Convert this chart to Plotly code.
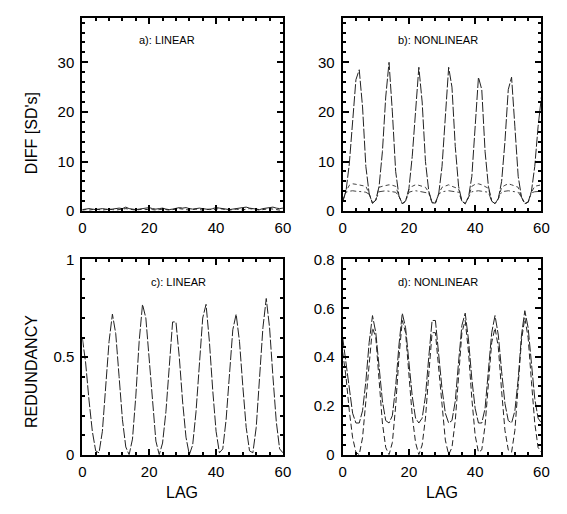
import plotly.graph_objects as go

lags = list(range(61))

# Panel a: DIFF, linear (small values)
diff_lin_1 = [0.3, 0.4, 0.5, 0.4, 0.3, 0.4, 0.5, 0.4, 0.3, 0.4, 0.5, 0.6, 0.5, 0.8, 0.5, 0.4, 0.3, 0.4, 0.5, 0.6,
              0.7, 0.5, 0.4, 0.5, 0.6, 0.4, 0.3, 0.4, 0.5, 0.7, 0.6, 0.7, 0.5, 0.4, 0.5, 0.6, 0.5, 0.4, 0.3, 0.5,
              0.7, 0.6, 0.5, 0.4, 0.3, 0.4, 0.5, 0.6, 0.7, 0.8, 0.6, 0.5, 0.4, 0.3, 0.5, 0.6, 0.7, 0.8, 0.6, 0.5, 0.6]
diff_lin_2 = [0.2, 0.3, 0.2, 0.3, 0.4, 0.3, 0.2, 0.3, 0.4, 0.3, 0.2, 0.3, 0.4, 0.5, 0.4, 0.3, 0.2, 0.3, 0.4, 0.3,
              0.4, 0.3, 0.2, 0.3, 0.4, 0.3, 0.2, 0.3, 0.4, 0.5, 0.4, 0.3, 0.2, 0.3, 0.4, 0.3, 0.2, 0.3, 0.4, 0.3,
              0.4, 0.5, 0.4, 0.3, 0.2, 0.3, 0.4, 0.3, 0.2, 0.4, 0.5, 0.4, 0.3, 0.2, 0.3, 0.4, 0.5, 0.4, 0.3, 0.2, 0.3]

# Panel b: DIFF, nonlinear
diff_non_1 = [2.0, 4.0, 9.5, 18.0, 26.5, 28.5, 21.0, 9.0, 3.5, 1.6, 2.2, 5.0, 12.0, 23.0, 30.0, 20.0, 8.0, 3.0, 1.5, 2.0,
              4.5, 11.0, 21.0, 29.0, 22.0, 10.0, 4.0, 1.7, 1.6, 3.5, 9.0, 19.0, 29.0, 25.0, 13.0, 5.0, 2.0, 1.5, 2.8, 7.0,
              16.0, 27.0, 24.5, 12.0, 5.0, 2.0, 1.5, 2.5, 6.0, 14.0, 24.5, 27.0, 17.0, 7.0, 2.8, 1.5, 1.8, 4.0, 9.0, 17.0, 23.0]
diff_non_2 = [2.0, 4.0, 5.2, 5.5, 5.4, 5.3, 5.2, 5.0, 3.5, 1.6, 2.2, 4.8, 5.0, 5.2, 5.3, 5.2, 5.0, 3.0, 1.5, 2.0,
              4.3, 5.0, 5.3, 5.2, 5.0, 4.8, 3.8, 1.7, 1.6, 3.5, 4.8, 5.0, 5.3, 5.0, 4.8, 4.5, 2.0, 1.5, 2.8, 5.0,
              5.4, 5.5, 5.3, 5.0, 4.6, 2.0, 1.5, 2.5, 4.8, 5.2, 5.5, 5.3, 5.0, 4.8, 2.8, 1.5, 1.8, 3.8, 5.0, 5.2, 5.3]
diff_non_3 = [2.0, 3.8, 4.0, 4.1, 4.0, 4.0, 3.9, 3.8, 3.4, 1.6, 2.2, 3.9, 4.0, 4.1, 4.0, 3.9, 3.8, 3.0, 1.5, 2.0,
              3.8, 4.0, 4.1, 4.0, 3.9, 3.8, 3.6, 1.7, 1.6, 3.4, 3.9, 4.0, 4.1, 4.0, 3.9, 3.8, 2.0, 1.5, 2.8, 3.9,
              4.0, 4.1, 4.0, 3.9, 3.8, 2.0, 1.5, 2.5, 3.9, 4.0, 4.1, 4.0, 3.9, 3.8, 2.8, 1.5, 1.8, 3.7, 3.9, 4.0, 4.0]

# Panel c: redundancy, linear
red_lin = [0.60, 0.47, 0.28, 0.12, 0.02, 0.01, 0.12, 0.35, 0.58, 0.72, 0.62, 0.40, 0.18, 0.04, 0.00, 0.08, 0.30, 0.58, 0.77, 0.70,
           0.48, 0.25, 0.07, 0.00, 0.06, 0.22, 0.45, 0.68, 0.68, 0.50, 0.27, 0.09, 0.00, 0.05, 0.22, 0.48, 0.70, 0.77, 0.58, 0.33,
           0.12, 0.01, 0.03, 0.18, 0.42, 0.64, 0.72, 0.58, 0.35, 0.14, 0.02, 0.01, 0.14, 0.38, 0.65, 0.80, 0.65, 0.40, 0.17, 0.03, 0.01]

# Panel d: redundancy, nonlinear
red_non_1 = [0.48, 0.38, 0.26, 0.17, 0.13, 0.13, 0.18, 0.30, 0.46, 0.57, 0.50, 0.36, 0.22, 0.14, 0.13, 0.16, 0.28, 0.45, 0.58, 0.52,
             0.38, 0.24, 0.15, 0.13, 0.15, 0.24, 0.40, 0.55, 0.55, 0.42, 0.27, 0.17, 0.13, 0.14, 0.22, 0.38, 0.53, 0.58, 0.47, 0.31,
             0.19, 0.13, 0.13, 0.19, 0.33, 0.50, 0.57, 0.49, 0.34, 0.21, 0.14, 0.13, 0.18, 0.31, 0.49, 0.59, 0.52, 0.37, 0.23, 0.15, 0.13]
red_non_2 = [0.42, 0.32, 0.18, 0.07, 0.01, 0.00, 0.07, 0.22, 0.40, 0.52, 0.48, 0.30, 0.13, 0.03, 0.00, 0.05, 0.20, 0.40, 0.55, 0.50,
             0.33, 0.16, 0.05, 0.00, 0.04, 0.15, 0.33, 0.50, 0.50, 0.36, 0.19, 0.06, 0.00, 0.03, 0.14, 0.32, 0.50, 0.55, 0.42, 0.23,
             0.08, 0.01, 0.02, 0.12, 0.28, 0.46, 0.52, 0.44, 0.26, 0.10, 0.02, 0.01, 0.10, 0.28, 0.47, 0.56, 0.48, 0.30, 0.13, 0.03, 0.01]

FONT = "Liberation Sans, Arial, sans-serif"
W, H = 567, 514

def dom_x(l, r):
    return [l / W, r / W]

def dom_y(t, b):
    return [1 - b / H, 1 - t / H]

fig = go.Figure()

def line(x, y, xa, ya, dash="solid", width=1.0, color="#222"):
    fig.add_trace(go.Scatter(x=x, y=y, mode="lines", xaxis=xa, yaxis=ya,
                             line=dict(color=color, width=width, dash=dash),
                             showlegend=False, hoverinfo="skip"))

line(lags, diff_lin_2, "x", "y", dash="4px,3px")
line(lags, diff_lin_1, "x", "y")
line(lags, diff_non_3, "x2", "y2", dash="6px,3px,2px,3px", color="#444")
line(lags, diff_non_2, "x2", "y2", dash="4px,3px", color="#444")
line(lags, diff_non_1, "x2", "y2", dash="10px,2px")
line(lags, red_lin, "x3", "y3", dash="10px,2px")
line(lags, red_non_2, "x4", "y4", dash="6px,3px")
line(lags, red_non_1, "x4", "y4", dash="10px,2px")

tickfont = dict(family=FONT, size=15, color="black")

def xax(domain, anchor):
    return dict(domain=domain, anchor=anchor, range=[0, 60], tickvals=[0, 20, 40, 60],
                ticks="inside", ticklen=6, tickwidth=2, tickcolor="black",
                showline=True, linewidth=2, linecolor="black", mirror="allticks",
                showgrid=False, zeroline=False, tickfont=tickfont, ticklabelstandoff=2,
                minor=dict(dtick=4, ticks="inside", ticklen=3, tickwidth=1.5, tickcolor="black", showgrid=False))

def yax(domain, anchor, rng, tv, tt, minor):
    return dict(domain=domain, anchor=anchor, range=rng, tickvals=tv, ticktext=tt,
                ticks="inside", ticklen=6, tickwidth=2, tickcolor="black",
                showline=True, linewidth=2, linecolor="black", mirror="allticks",
                showgrid=False, zeroline=False, tickfont=tickfont, ticklabelstandoff=3,
                minor=dict(dtick=minor, tick0=0, ticks="inside", ticklen=3, tickwidth=1.5, tickcolor="black", showgrid=False))

xa_l = dom_x(80, 285)
xa_r = dom_x(346, 549)
ya_t = dom_y(9, 209)
ya_b = dom_y(259, 461)

fig.update_layout(
    width=W, height=H, margin=dict(l=0, r=0, t=0, b=0),
    paper_bgcolor="white", plot_bgcolor="white",
    xaxis=xax(xa_l, "y"),
    yaxis=yax(ya_t, "x", [0, 39], [0, 10, 20, 30], ["0", "10", "20", "30"], 2),
    xaxis2=xax(xa_r, "y2"),
    yaxis2=yax(ya_t, "x2", [0, 39], [0, 10, 20, 30], ["0", "10", "20", "30"], 2),
    xaxis3=xax(xa_l, "y3"),
    yaxis3=yax(ya_b, "x3", [0, 1], [0, 0.5, 1], ["0", "0.5", "1"], 0.1),
    xaxis4=xax(xa_r, "y4"),
    yaxis4=yax(ya_b, "x4", [0, 0.8], [0, 0.2, 0.4, 0.6, 0.8], ["0", "0.2", "0.4", "0.6", "0.8"], 0.04),
)

labels = [("a): LINEAR", 167, 32), ("b): NONLINEAR", 443, 32),
          ("c): LINEAR", 178, 282), ("d): NONLINEAR", 443, 282)]
for txt, px, py in labels:
    fig.add_annotation(text=txt, x=px / W, y=1 - py / H, xref="paper", yref="paper",
                       showarrow=False, xanchor="center", yanchor="middle",
                       font=dict(family=FONT, size=11, color="black"))

# Axis titles
titles = [("DIFF [SD's]", 28, 128, -90), ("REDUNDANCY", 28, 375, -90),
          ("LAG", 182, 500, 0), ("LAG", 447, 500, 0)]
for txt, px, py, ang in titles:
    fig.add_annotation(text=txt, x=px / W, y=1 - py / H, xref="paper", yref="paper",
                       showarrow=False, xanchor="center", yanchor="middle", textangle=ang,
                       font=dict(family=FONT, size=16, color="black"))

fig.write_html("out.html", config={"displayModeBar": False},
               post_script="document.body.style.margin='0';document.body.style.overflow='hidden';")
